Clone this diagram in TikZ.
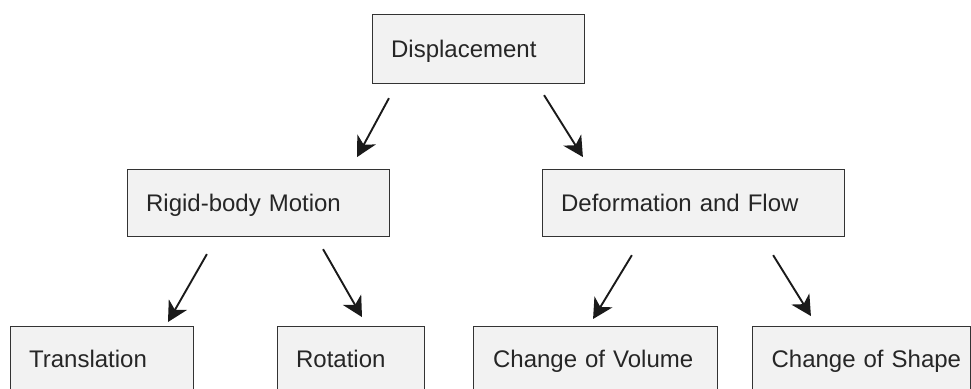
\documentclass[tikz,border=0pt]{standalone}
\usepackage{fontspec}
\setmainfont{Liberation Sans}
\usetikzlibrary{arrows.meta}
\definecolor{boxfill}{HTML}{F2F2F2}
\definecolor{boxline}{HTML}{333333}
\definecolor{arrline}{HTML}{1A1A1A}
\begin{document}
\begin{tikzpicture}[x=1pt,y=-1pt,
  box/.style={draw=boxline, fill=boxfill, line width=1.2pt, anchor=north west,
    align=left, inner xsep=18.5pt, inner ysep=0pt, text height=17pt, text depth=0pt,
    font=\fontsize{24}{28}\selectfont, text=black!85},
  arr/.style={draw=arrline, line width=1.9pt,
    -{Stealth[length=20pt,width=21pt,inset=6pt]}}]
\useasboundingbox (0,0) rectangle (971,388);
\clip (0,0) rectangle (971,388);
\node[box, text width=175pt, minimum height=69pt] (disp) at (372,14) {Displacement};
\node[box, text width=225pt, minimum height=67pt] (rigid) at (127,169) {Rigid-body Motion};
\node[box, text width=265pt, minimum height=67pt] (deform) at (542,169) {Deformation and Flow};
\node[box, text width=146pt, minimum height=65pt] (trans) at (10,326) {Translation};
\node[box, text width=110pt, minimum height=65pt] (rot) at (277,326) {Rotation};
\node[box, minimum height=65pt, inner xsep=19.5pt, text width=205pt] (vol) at (473,326) {Change of Volume};
\node[box, minimum height=65pt, inner xsep=19pt, text width=180pt] (shape) at (752,326) {\mbox{Change of Shape}};
\draw[arr, shorten <=15.9pt, shorten >=13.6pt] ([xshift=24.5pt]disp.south west) -- ([xshift=223.6pt]rigid.north west);
\draw[arr, shorten <=12.9pt, shorten >=14.1pt] ([xshift=165.2pt]disp.south west) -- ([xshift=48.4pt]deform.north west);
\draw[arr, shorten <=19.5pt, shorten >=4.6pt] ([xshift=89.6pt]rigid.south west) -- ([xshift=155.7pt]trans.north west);
\draw[arr, shorten <=13.8pt, shorten >=10.3pt] ([xshift=189.2pt]rigid.south west) -- ([xshift=90.1pt]rot.north west);
\draw[arr, shorten <=21pt, shorten >=8.2pt] ([xshift=100.8pt]deform.south west) -- ([xshift=115.8pt]vol.north west);
\draw[arr, shorten <=21.1pt, shorten >=11.7pt] ([xshift=220pt]deform.south west) -- ([xshift=65.1pt]shape.north west);
\end{tikzpicture}
\end{document}
